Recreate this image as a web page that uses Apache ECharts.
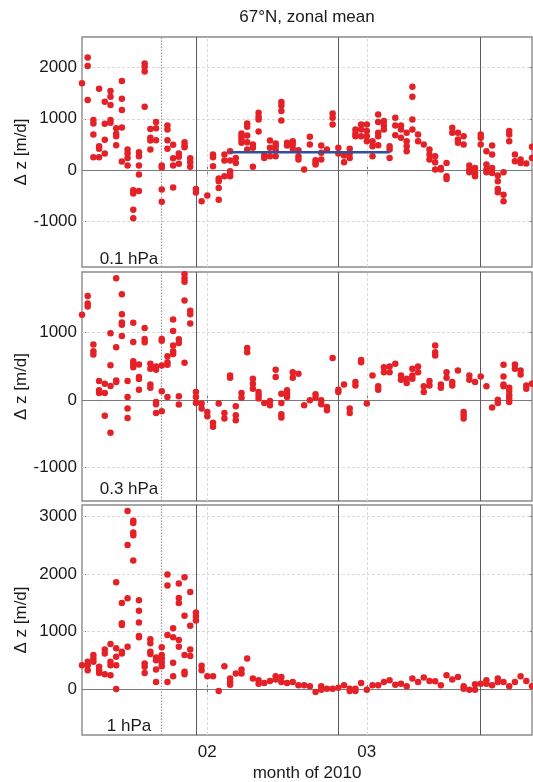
<!DOCTYPE html>
<html><head><meta charset="utf-8">
<script src="https://cdn.jsdelivr.net/npm/echarts@6/dist/echarts.min.js"></script>
<style>html,body{margin:0;padding:0;background:#fff}#c{width:533px;height:782px}</style>
</head><body><div id="c"></div>
<script>
// x: day of year 2010 (Jan 1 = 1, Feb 1 = 32, Mar 1 = 60)
const dayOfYear = [10,11,12,13,14,15,16,17,18,19,20,21,22,23,24,25,26,27,28,29,30,31,32,33,34,35,36,37,38,39,40,41,42,43,44,45,46,47,48,49,50,51,52,53,54,55,56,57,58,59,60,61,62,63,64,65,66,67,68,69,70,71,72,73,74,75,76,77,78,79,80,81,82,83,84,85,86,87,88,89];

// Δz [m/d] per day, 0.1 hPa
const p01 = [
 [1694],[2197,2034,1367],[974,909,693,248],[1589,464,412,248],[1334,902,588,320],
 [1543,1432,1268,974,922],[817,706,660,484],[1740,1393,1171,830,163],[399,320,235,85],[-399,-464,-778,-948],
 [347,268,85,-92,-412],[2080,2020,1923,1236],[798,628,575,399],[935,817,582],[85,46,-386,-621],
 [870,791,582,412],[490,229,85,-347],[320,255,118],[543,477,445],[229,150,59],
 [-373,-440],[-614],[-503],[301,248,72],[-170,-222,-353,-582],
 [301,183,-124],[366,183,-26,-72,-124],[235,137],[713,660,595,530],[909,843,673,543,399],
 [497,432,59],[1118,1040,987,752],[288,235],[575,432,268],[517,464,386,268],
 [1328,1262,1151,968],[530,477],[562,497,412],[386,268,203],[7],
 [647,497],[190,137,105],[477,333,203],[399],[1105,1020,889],
 [432,320],[281,150],[412,320,235],[791,713,660],[889,791,660],
 [889,759,660,562],[562,464,268],[1085,935,726,660,484],[955,870,791],[464,399,235],
 [1020,870,680],[870,791,628],[726,562,464,366],[1628,1432,987,791],[693,562],
 [497],[399,301,203],[268,150,7],[39,7],[137,-124,-177],
 [824,726],[726,595,530],[660,497],[85,7,-46],[39,-59,-124],
 [693,628,497],[366,105,7,-46],[477,301,39,-59],[-111,-222,-373,-438],[-46,-484,-615],
 [759,693,562],[301,170],[203,137],[124],[451,235]
];

// 0.3 hPa
const p03 = [
 [1264],[1545,1432,1388],[822,723,674],[280,143,103],[241,103,-236],
 [989,517,207,-487],[1806,782,290,266],[1570,1274,1151,1117,950],[280,44,-128,-266],[1146,861,576,536,487],
 [526,340,310,152],[1068,905,856],[536,463,231,182],[497,448,-30,-64,-192],[905,880,512,128,-167],
 [650,561,522,44],[1196,1023,807,723,684],[900,846,54,-69],[1865,1806,1757,1476,551],[1323,1274,1137],
 [118,44,-44],[-54,-128],[-177,-241],[-340,-399],[-54],
 [-192,-276],[364,330],[-94,-226,-300],[103,34],[773,709],
 [315,241,167],[118,69,20],[-44],[-15,-79],[448,340],
 [93,-44,-212,-261],[143,93,44],[413,330],[389],[-79],
 [-5],[84,34],[-5,-64],[-103,-153],[625],
 [152,118],[231],[-128,-192],[266,216],[595,561],
 [-54],[364],[202,153],[487,413],[497,413],
 [536],[364,300],[315,251],[463,364,315],[497,413],
 [202,118],[280,216],[807,709,659],[231,182],[413,330],
 [266,216],[438],[-177,-226,-276],[364,300],[266],
 [350],[202],[-113],[5,-44],[522,350,231,202],
 [182,133,69,20,-30],[527,463],[438,379],[216,167],[241]
];

// 1 hPa
const p1 = [
 [415],[473,415,327],[590,531,473],[385,327,280],[689,619,257],
 [783,473,415,239],[1857,707,561,415,0],[1495,1145,1115,648,619],[3095,2505,1577,736],[2926,2885,2721,2675,2236],
 [1542,1361,1156,923,899],[444,385,280],[864,794,648,607],[549,502,339,123],[724,590,531,455,397],
 [1991,1799,940,123],[1057,899,455,222],[1834,1583,1495,853,736],[1945,1273,590,298,257],[1688,1098,689,572],
 [1331,1261,1191],[403,327],[222],[222],[-35],
 [397],[181,123,76],[269],[339,269],[531],
 [181],[152,93],[105],[140],[222,164],
 [210,123],[105],[123],[64],[64],
 [47],[-53],[47,-12],[6],[6],
 [23],[64],[6,-35],[6,-35],[105],
 [-12],[64],[64],[123],[152],
 [76],[93],[47],[181],[123],
 [199],[140],[134],[64],[239],
 [164],[210],[47,6],[-12],[82,-12],
 [93],[152,93],[64],[181,123],[123],
 [47],[123],[222],[140],[47]
];

const panelLabels = ['0.1 hPa', '0.3 hPa', '1 hPa'];
const monthTickValues = [32, 60];
const monthTickLabels = ['02', '03'];
const eventLines = [30, 55, 80];   // solid vertical lines
const dottedLines = [24];          // dotted vertical line
const meanLineX = [36, 64];        // blue mean line, 0.1 hPa
const meanLineY = [345, 345];
const yTicks = [[-1000, 0, 1000, 2000], [-1000, 0, 1000], [0, 1000, 2000, 3000]];
const yMin = [-1900, -1500, -800];
const yMax = [2600, 1900, 3200];

const FONT = "'Liberation Sans', Arial, sans-serif";
const TXT = '#1a1a1a';
const panels = [p01, p03, p1];

const grids = [
  {left: 82, width: 450, top: 37, height: 230},
  {left: 82, width: 450, top: 272, height: 229},
  {left: 82, width: 450, top: 505, height: 230}
].map(g => Object.assign(g, {show: true, borderColor: '#8a8a8a', borderWidth: 1.4,
  backgroundColor: '#fff', containLabel: false, outerBoundsMode: 'none'}));

const xAxis = [], yAxis = [], series = [];
for (let i = 0; i < 3; i++) {
  const tick = {show: true, inside: true, length: 4, customValues: monthTickValues, lineStyle: {color: '#777', width: 1}};
  xAxis.push({
    type: 'value', gridIndex: i, min: 10, max: 89, position: 'bottom',
    axisLine: {show: false}, splitLine: {show: false}, axisTick: tick,
    axisLabel: {show: i === 2, customValues: monthTickValues, margin: 9,
      formatter: v => monthTickLabels[monthTickValues.indexOf(v)] || '',
      fontSize: 17, fontFamily: FONT, color: TXT},
    name: i === 2 ? 'month of 2010' : '', nameLocation: 'middle', nameGap: 30, nameMoveOverlap: false,
    nameTextStyle: {fontSize: 17, fontFamily: FONT, color: TXT}
  });
  xAxis.push({
    type: 'value', gridIndex: i, min: 10, max: 89, position: 'top',
    axisLine: {show: false}, splitLine: {show: false}, axisTick: tick, axisLabel: {show: false}
  });
  const ytick = {show: true, inside: true, length: 4, customValues: yTicks[i], lineStyle: {color: '#777', width: 1}};
  yAxis.push({
    type: 'value', gridIndex: i, min: yMin[i], max: yMax[i], position: 'left',
    axisLine: {show: false}, splitLine: {show: false}, axisTick: ytick,
    axisLabel: {customValues: yTicks[i], margin: 5, fontSize: 17, fontFamily: FONT, color: TXT,
      formatter: v => String(v)},
    name: 'Δ z [m/d]', nameLocation: 'middle', nameGap: 52, nameRotate: 90, nameMoveOverlap: false,
    nameTextStyle: {fontSize: 17, fontFamily: FONT, color: TXT}
  });
  yAxis.push({
    type: 'value', gridIndex: i, min: yMin[i], max: yMax[i], position: 'right',
    axisLine: {show: false}, splitLine: {show: false}, axisTick: ytick, axisLabel: {show: false}
  });

  const lines = [];
  monthTickValues.forEach(v => lines.push({xAxis: v, lineStyle: {color: '#d9d9d9', width: 1, type: [3, 2]}}));
  yTicks[i].filter(v => v !== 0).forEach(v => lines.push({yAxis: v, lineStyle: {color: '#d9d9d9', width: 1, type: [3, 2]}}));
  lines.push({yAxis: 0, lineStyle: {color: '#7a7a7a', width: 1.2, type: 'solid'}});
  eventLines.forEach(v => lines.push({xAxis: v, lineStyle: {color: '#5a5a5a', width: 1, type: 'solid'}}));
  dottedLines.forEach(v => lines.push({xAxis: v, lineStyle: {color: '#9a9a9a', width: 1.2, type: [1.5, 1.5]}}));

  series.push({
    type: 'scatter', xAxisIndex: 2 * i, yAxisIndex: 2 * i, data: [], z: 1, silent: true,
    markLine: {z: 1, silent: true, symbol: ['none', 'none'], label: {show: false}, animation: false, data: lines}
  });

  const pts = [];
  panels[i].forEach((vals, k) => vals.forEach(v => pts.push([dayOfYear[k], v])));
  series.push({
    type: 'scatter', xAxisIndex: 2 * i, yAxisIndex: 2 * i, data: pts, z: 3,
    symbol: 'circle', symbolSize: 6.5, clip: false, silent: true,
    itemStyle: {color: '#e42127', opacity: 1, borderWidth: 0}, animation: false
  });
}
series.push({
  type: 'line', xAxisIndex: 0, yAxisIndex: 0, z: 4, symbol: 'none', animation: false, silent: true,
  data: meanLineX.map((x, k) => [x, meanLineY[k]]),
  lineStyle: {color: '#2f4f9f', width: 2.6}
});

const labelY = [259, 489, 726];
const graphic = [{
  type: 'text', x: 307, y: 17,
  style: {text: '67°N, zonal mean', fontSize: 17, fontFamily: FONT, fill: TXT, textAlign: 'center', textVerticalAlign: 'middle'}
}];
panelLabels.forEach((t, i) => graphic.push({
  type: 'text', x: 129, y: labelY[i],
  style: {text: t, fontSize: 17, fontFamily: FONT, fill: TXT, textAlign: 'center', textVerticalAlign: 'middle'}
}));

const chart = echarts.init(document.getElementById('c'), null, {renderer: 'canvas'});
chart.setOption({
  backgroundColor: '#fff', animation: false,
  grid: grids, xAxis: xAxis, yAxis: yAxis, series: series, graphic: graphic
});
</script></body></html>
